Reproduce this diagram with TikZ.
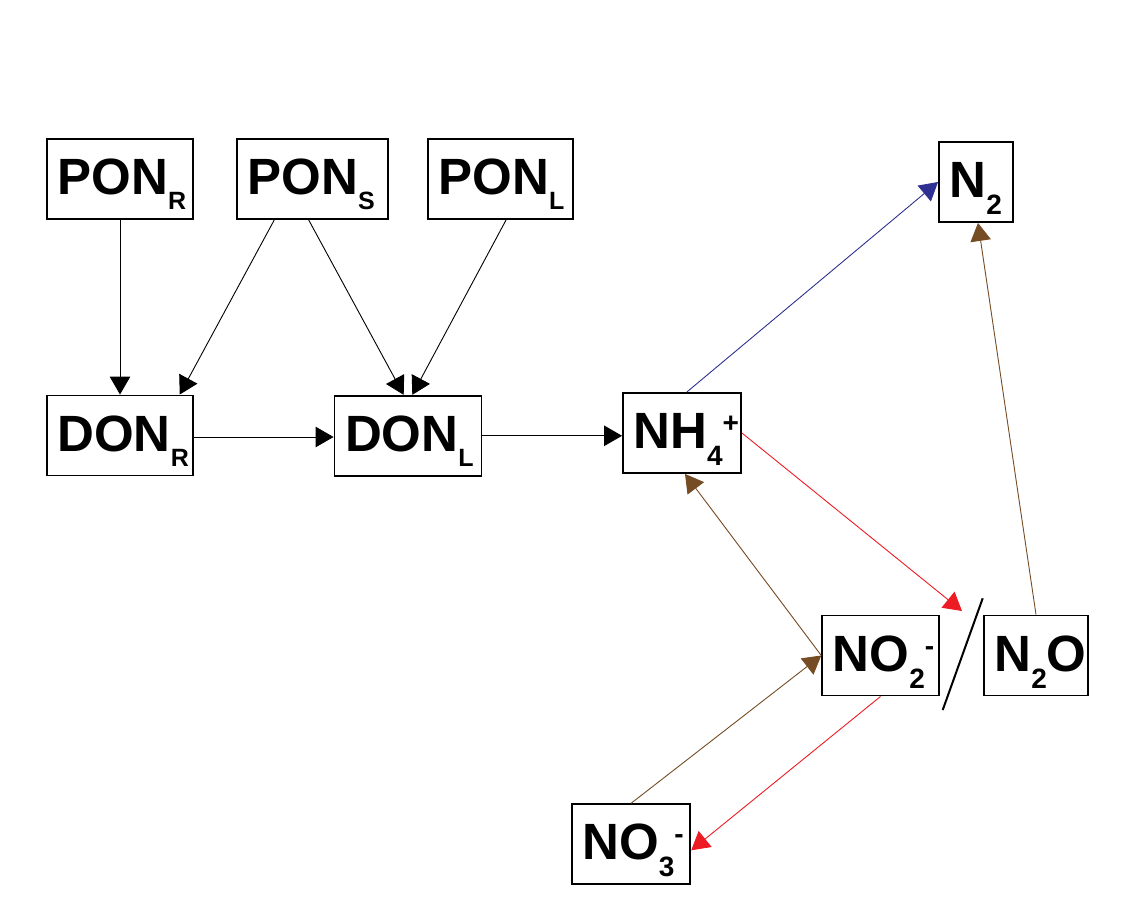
\documentclass[tikz,border=0pt]{standalone}
\usepackage{fontspec}
\setmainfont{Liberation Sans}
\usetikzlibrary{arrows.meta,calc}
\definecolor{nred}{HTML}{ED1C24}
\definecolor{nbrown}{HTML}{754C24}
\definecolor{nblue}{HTML}{2E3192}
\newcommand\bigtxt[1]{{\fontsize{51}{51}\selectfont #1}}
\newcommand\lsub[1]{\raisebox{-15pt}{\fontsize{25}{25}\selectfont #1}}
\newcommand\dsub[1]{\raisebox{-17pt}{\fontsize{28}{28}\selectfont #1}}
\newcommand\dsup[1]{\raisebox{16pt}{\fontsize{28}{28}\selectfont #1}}
\begin{document}
\begin{tikzpicture}[x=1pt,y=-1pt,
  species/.style={draw=black, line width=1.9pt, fill=white, font=\bfseries,
    inner xsep=9pt, inner ysep=0pt, text height=55.5pt, text depth=24.5pt,
    align=left, text width=#1, execute at begin node={\hspace*{1.5pt}}},
  flow/.style={line width=0.9pt, -{Triangle[length=18pt,width=20.5pt]}},
  slashline/.style={line width=2pt, black},
]
\useasboundingbox (0,0) rectangle (1148,915);
% nodes
\node[species=128pt] (ponr) at (120,179) {\bigtxt{PON}\lsub{R}};
\node[species=133pt] (pons) at (312.5,179) {\bigtxt{PON}\lsub{S}};
\node[species=127pt] (ponl) at (500.5,179) {\bigtxt{PON}\lsub{L}};
\node[species=128pt] (donr) at (120,435.5) {\bigtxt{DON}\lsub{R}};
\node[species=129pt] (donl) at (408,435.8) {\bigtxt{DON}\lsub{L}};
\node[species=100pt] (nh4) at (682,433) {\bigtxt{NH}\dsub{4}\dsup{+}};
\node[species=56pt] (n2) at (976,182) {\bigtxt{N}\dsub{2}};
\node[species=98.5pt] (no2) at (880.5,655.5) {\bigtxt{NO}\dsub{2}\dsup{-}};
\node[species=86pt] (n2o) at (1036,655.5) {\bigtxt{N}\dsub{2}\bigtxt{O}};
\node[species=100.5pt] (no3) at (631,844.3) {\bigtxt{NO}\dsub{3}\dsup{-}};
% helper coordinates
\coordinate (hdon) at ($(donr.east)+(0,1.5)$);
\coordinate (redtip) at (962,611);
\coordinate (slashtop) at (982.7,598.3);
\coordinate (slashbot) at (942.7,710);
% connectors
\draw[flow] (ponr.south) -- (donr.north);
\draw[flow] ($(pons.south west)!0.25!(pons.south east)$) -- ($(donr.north west)!0.904!(donr.north east)$);
\draw[flow] ($(pons.south west)!0.475!(pons.south east)$) -- ($(donl.north west)!0.471!(donl.north east)$);
\draw[flow] ($(ponl.south west)!0.538!(ponl.south east)$) -- ($(donl.north west)!0.529!(donl.north east)$);
\draw[flow] (hdon) -- (hdon -| donl.west);
\draw[flow] (donl.east) -- (donl.east -| nh4.west);
\draw[flow,nblue] ($(nh4.north west)!0.54!(nh4.north east)$) -- (n2.west);
\draw[flow,nred] (nh4.east) -- (redtip);
\draw[slashline] (slashtop) -- (slashbot);
\draw[flow,nbrown] (no2.west) -- ($(nh4.south west)!0.525!(nh4.south east)$);
\draw[flow,nbrown] (no3.north) -- (no2.west);
\draw[flow,nred] (no2.south) -- ($(no3.east)+(0,6)$);
\draw[flow,nbrown] (n2o.north) -- ($(n2.south)+(2,0)$);
\end{tikzpicture}
\end{document}
